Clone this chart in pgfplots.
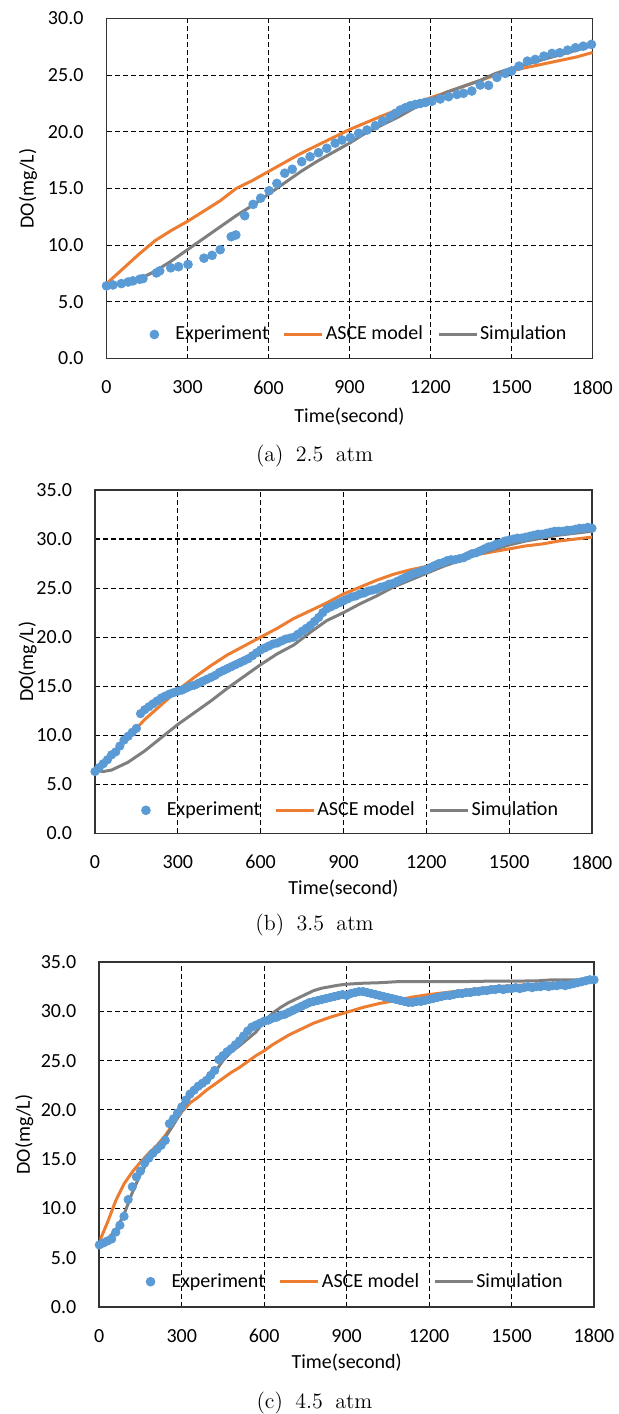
\documentclass[border=0pt]{standalone}
\usepackage{pgfplots}
\pgfplotsset{compat=1.18}
\usepackage{fontspec}
\newfontfamily\calfont{Carlito}
\definecolor{expblue}{HTML}{5B9BD5}
\definecolor{ascecol}{HTML}{ED7D31}
\definecolor{simcol}{HTML}{7F7F7F}
\newcommand{\sansten}{\calfont\fontsize{10}{12}\selectfont}
\newcommand{\capfont}{\fontsize{11}{13}\selectfont}
\pgfplotsset{
  panel/.style={
    scale only axis,
    xmin=0, xmax=1800, ymin=0,
    xtick={0,300,...,1800},
    grid=major,
    major grid style={black, line width=0.6pt, dash pattern=on 2.5pt off 1.5pt},
    axis line style={black!80, line width=0.8pt},
    major tick length=0pt,
    tick label style={font=\sansten, /pgf/number format/assume math mode=true, /pgf/number format/1000 sep={}},
    yticklabel style={/pgf/number format/fixed, /pgf/number format/fixed zerofill, /pgf/number format/precision=1, xshift=-8pt},
    xticklabel style={yshift=-7.5pt},
    label style={font=\sansten},
    xlabel={Time(second)},
    ylabel={DO(mg/L)},
    legend style={draw=none, fill=none, legend columns=3, anchor=center, font=\sansten,
      /tikz/every even column/.append style={column sep=6pt}, inner sep=0pt,
      nodes={inner xsep=1pt, inner ysep=1pt}},
    legend cell align=left,
  },
  explegend/.style={only marks, mark=*, mark size=2.2pt, expblue,
      legend image code/.code={\path[draw=none, fill=none] (0pt,0pt) -- (19pt,0pt);
        \path[mark repeat=2, mark phase=2, ##1, draw=none, mark options={draw=expblue, fill=expblue}] plot coordinates {(0pt,0pt)(9.5pt,0pt)(19pt,0pt)};}},
  linelegend/.style={line width=1.5pt,
      legend image code/.code={\draw[##1] (0pt,0pt) -- (19pt,0pt);}},
}
\begin{document}
\begin{tikzpicture}
\useasboundingbox (0pt,0pt) rectangle (309.5pt,-707pt);

% ---------------- (a) 2.5 atm ----------------
\begin{axis}[panel, at={(53.25pt,-179.25pt)}, anchor=south west,
  width=243pt, height=170pt, ymax=30, ytick={0,5,...,30},
  xlabel style={at={(axis description cs:0.5,-0.1706)}, anchor=center},
  ylabel style={at={(axis description cs:-0.1615,0.5)}, anchor=center},
  legend style={at={(0.505,0.0706)}}]
\addlegendimage{explegend}\addlegendentry{Experiment}
\addlegendimage{linelegend, ascecol}\addlegendentry{ASCE model}
\addlegendimage{linelegend, simcol}\addlegendentry{Simulation}
\addplot[ascecol, line width=1.5pt, forget plot] coordinates {
(0,6.6)(60,7.9)(120,9.2)(180,10.4)(240,11.3)(300,12.1)(360,13.0)(420,13.9)(480,15.0)(540,15.7)(600,16.5)(660,17.3)(720,18.1)(780,18.8)(840,19.5)(900,20.2)(960,20.8)(1020,21.4)(1080,21.95)(1140,22.5)(1200,23.0)(1260,23.5)(1320,24.0)(1380,24.5)(1440,25.0)(1500,25.4)(1560,25.7)(1620,26.0)(1680,26.3)(1740,26.6)(1800,27.0)};
\addplot[simcol, line width=1.5pt, forget plot] coordinates {
(0,6.4)(60,6.6)(120,7.0)(180,7.7)(240,8.6)(300,9.6)(360,10.6)(420,11.6)(480,12.6)(540,13.5)(600,14.5)(660,15.5)(720,16.5)(780,17.4)(840,18.2)(900,19.0)(960,19.9)(1020,20.6)(1080,21.3)(1140,22.1)(1200,22.8)(1260,23.5)(1320,24.0)(1380,24.5)(1440,25.15)(1500,25.6)(1560,26.0)(1620,26.4)(1680,26.8)(1740,27.2)(1800,27.6)};
\addplot[only marks, mark=*, mark size=2.2pt, expblue, forget plot] coordinates {
(0,6.41)(24,6.49)(55,6.61)(80,6.75)(98,6.85)(123,6.99)(135,7.05)(185,7.55)(197,7.73)(238,8.00)(267,8.10)(302,8.30)(361,8.85)(391,9.10)(421,9.60)(462,10.75)(479,10.90)(512,12.60)(543,13.60)(571,14.15)(602,14.80)(631,15.45)(660,16.35)(688,16.70)(723,17.37)(754,17.80)(785,18.16)(816,18.55)(847,19.00)(872,19.28)(903,19.49)(934,19.87)(965,20.16)(996,20.54)(1023,20.96)(1051,21.34)(1070,21.63)(1088,21.93)(1107,22.13)(1125,22.30)(1144,22.42)(1162,22.50)(1181,22.60)(1205,22.70)(1236,22.90)(1267,23.10)(1298,23.30)(1322,23.40)(1353,23.60)(1384,24.13)(1415,24.10)(1446,24.80)(1477,25.16)(1500,25.36)(1528,25.80)(1559,26.24)(1588,26.39)(1620,26.68)(1650,26.92)(1679,26.98)(1708,27.21)(1737,27.42)(1766,27.56)(1796,27.71)};
\end{axis}
\node[font=\capfont] at (157.25pt,-227.9pt) {(a)\hspace{6.2pt}2.5\hspace{6.2pt}atm};

% ---------------- (b) 3.5 atm ----------------
\begin{axis}[panel, at={(47.5pt,-416.65pt)}, anchor=south west,
  width=248.5pt, height=171.65pt, ymax=35, ytick={0,5,...,35},
  xlabel style={at={(axis description cs:0.5,-0.160)}, anchor=center},
  ylabel style={at={(axis description cs:-0.136,0.5)}, anchor=center},
  legend style={at={(0.5,0.067)}}]
\addlegendimage{explegend}\addlegendentry{Experiment}
\addlegendimage{linelegend, ascecol}\addlegendentry{ASCE model}
\addlegendimage{linelegend, simcol}\addlegendentry{Simulation}
\addplot[ascecol, line width=1.5pt, forget plot] coordinates {
(0,6.4)(60,7.9)(120,9.8)(180,11.6)(240,13.1)(300,14.6)(360,15.9)(420,17.1)(480,18.2)(540,19.1)(600,20.0)(660,20.9)(720,21.9)(780,22.7)(840,23.5)(900,24.4)(960,25.1)(1020,25.8)(1080,26.4)(1140,26.85)(1200,27.2)(1260,27.6)(1320,28.0)(1380,28.4)(1440,28.7)(1500,29.0)(1560,29.3)(1620,29.5)(1680,29.8)(1740,30.0)(1800,30.2)};
\addplot[simcol, line width=1.5pt, forget plot] coordinates {
(0,6.4)(30,6.3)(60,6.45)(120,7.25)(180,8.4)(240,9.75)(300,11.1)(360,12.3)(420,13.5)(480,14.8)(540,16.0)(600,17.2)(660,18.3)(720,19.2)(780,20.5)(840,21.7)(900,22.5)(960,23.4)(1020,24.2)(1080,25.1)(1140,25.8)(1200,26.5)(1260,27.2)(1320,27.8)(1380,28.4)(1440,28.9)(1500,29.4)(1560,29.8)(1620,30.1)(1680,30.4)(1740,30.6)(1800,30.8)};
\addplot[only marks, mark=*, mark size=2.1pt, expblue, forget plot] coordinates {
(0,6.3)(15,6.7)(30,7.1)(45,7.5)(60,8.0)(75,8.3)(90,8.9)(105,9.5)(120,9.9)(135,10.3)(150,10.7)(165,12.2)(180,12.6)(195,12.9)(210,13.2)(225,13.5)(240,13.8)(255,14.0)(270,14.2)(285,14.35)(300,14.5)(315,14.6)(330,14.8)(345,15.0)(360,15.1)(375,15.3)(390,15.5)(405,15.7)(420,15.9)(435,16.1)(450,16.4)(465,16.6)(480,16.8)(495,17.0)(510,17.2)(525,17.4)(540,17.6)(555,17.8)(570,18.1)(585,18.4)(600,18.7)(615,18.9)(630,19.1)(645,19.3)(660,19.4)(675,19.6)(690,19.8)(705,19.9)(720,20.0)(735,20.3)(750,20.6)(765,20.9)(780,21.2)(795,21.6)(810,22.0)(825,22.5)(840,22.9)(855,23.1)(870,23.3)(885,23.5)(900,23.7)(915,23.9)(930,24.1)(945,24.2)(960,24.4)(975,24.5)(990,24.7)(1005,24.8)(1020,24.9)(1035,25.1)(1050,25.2)(1065,25.4)(1080,25.5)(1095,25.7)(1110,25.9)(1125,26.1)(1140,26.3)(1155,26.5)(1170,26.6)(1185,26.8)(1200,26.9)(1215,27.1)(1230,27.3)(1245,27.5)(1260,27.6)(1275,27.8)(1290,27.9)(1305,27.9)(1320,28.0)(1335,28.1)(1350,28.3)(1365,28.5)(1380,28.6)(1395,28.8)(1410,29.0)(1425,29.2)(1440,29.3)(1455,29.5)(1470,29.6)(1485,29.8)(1500,29.9)(1515,30.0)(1530,30.1)(1545,30.1)(1560,30.2)(1575,30.3)(1590,30.4)(1605,30.5)(1620,30.5)(1635,30.6)(1650,30.7)(1665,30.8)(1680,30.8)(1695,30.8)(1710,30.9)(1725,30.9)(1740,31.0)(1755,31.1)(1770,31.1)(1785,31.2)(1800,31.1)};
\end{axis}
\node[font=\capfont] at (157.25pt,-462.6pt) {(b)\hspace{6.2pt}3.5\hspace{6.2pt}atm};

% ---------------- (c) 4.5 atm ----------------
\begin{axis}[panel, at={(49.65pt,-653.5pt)}, anchor=south west,
  width=247.35pt, height=172.5pt, ymax=35, ytick={0,5,...,35},
  xlabel style={at={(axis description cs:0.5,-0.1614)}, anchor=center},
  ylabel style={at={(axis description cs:-0.1516,0.5)}, anchor=center},
  legend style={at={(0.503,0.0733)}}]
\addlegendimage{explegend}\addlegendentry{Experiment}
\addlegendimage{linelegend, ascecol}\addlegendentry{ASCE model}
\addlegendimage{linelegend, simcol}\addlegendentry{Simulation}
\addplot[ascecol, line width=1.5pt, forget plot] coordinates {
(0,6.6)(30,8.6)(60,10.8)(90,12.5)(120,13.7)(150,14.7)(180,15.6)(210,16.4)(240,17.4)(270,18.6)(300,19.8)(330,20.7)(360,21.3)(390,22.0)(420,22.6)(450,23.2)(480,23.8)(510,24.3)(540,24.9)(570,25.5)(600,26.0)(630,26.6)(660,27.1)(690,27.6)(720,28.0)(780,28.8)(840,29.4)(900,29.9)(960,30.4)(1020,30.8)(1080,31.1)(1140,31.45)(1200,31.7)(1260,31.9)(1320,32.1)(1380,32.3)(1440,32.5)(1500,32.6)(1560,32.7)(1620,32.8)(1680,32.9)(1740,33.0)(1800,33.1)};
\addplot[simcol, line width=1.5pt, forget plot] coordinates {
(0,6.4)(30,6.9)(60,7.8)(90,9.4)(120,11.6)(150,13.5)(180,14.9)(210,16.0)(240,17.2)(270,18.5)(300,19.9)(330,21.3)(360,22.3)(390,23.0)(420,23.8)(450,25.0)(480,25.9)(510,26.5)(540,27.2)(570,27.9)(600,29.0)(630,29.8)(660,30.4)(690,30.9)(720,31.3)(750,31.7)(780,32.1)(810,32.35)(840,32.5)(870,32.65)(900,32.75)(960,32.85)(1020,32.9)(1080,33.0)(1200,33.0)(1300,33.0)(1400,33.05)(1500,33.05)(1600,33.1)(1650,33.2)(1800,33.2)};
\addplot[only marks, mark=*, mark size=2.1pt, expblue, forget plot] coordinates {
(0,6.3)(15,6.5)(30,6.7)(45,6.9)(60,7.6)(75,8.3)(90,9.2)(105,10.9)(120,12.2)(135,13.2)(150,13.8)(165,14.6)(180,15.1)(195,15.6)(210,16.0)(225,16.4)(240,16.9)(255,18.6)(270,19.1)(285,19.7)(300,20.3)(315,21.0)(330,21.6)(345,22.0)(360,22.4)(375,22.7)(390,23.0)(405,23.5)(420,24.0)(435,25.1)(450,25.5)(465,25.9)(480,26.2)(495,26.6)(510,27.0)(525,27.5)(540,28.0)(555,28.4)(570,28.6)(585,28.8)(600,29.0)(615,29.1)(630,29.3)(645,29.4)(660,29.6)(675,29.7)(690,29.9)(705,30.1)(720,30.3)(735,30.5)(750,30.7)(765,30.9)(780,31.0)(795,31.1)(810,31.2)(825,31.3)(840,31.4)(855,31.5)(870,31.6)(885,31.7)(900,31.6)(915,31.8)(930,31.9)(945,32.0)(960,32.0)(975,31.9)(990,31.8)(1005,31.7)(1020,31.6)(1035,31.5)(1050,31.4)(1065,31.3)(1080,31.2)(1095,31.1)(1110,31.0)(1125,30.9)(1140,30.9)(1155,31.0)(1170,31.0)(1185,31.1)(1200,31.2)(1215,31.3)(1230,31.4)(1245,31.5)(1260,31.6)(1275,31.6)(1290,31.7)(1305,31.8)(1320,31.8)(1335,31.9)(1350,31.9)(1365,32.0)(1380,32.0)(1395,32.1)(1410,32.1)(1425,32.2)(1440,32.2)(1455,32.3)(1470,32.2)(1485,32.3)(1500,32.3)(1515,32.4)(1530,32.3)(1545,32.4)(1560,32.5)(1575,32.4)(1590,32.5)(1605,32.5)(1620,32.6)(1635,32.5)(1650,32.6)(1665,32.6)(1680,32.7)(1695,32.6)(1710,32.7)(1725,32.8)(1740,32.9)(1755,33.0)(1770,33.1)(1785,33.2)(1800,33.2)};
\end{axis}
\node[font=\capfont] at (157.25pt,-701.5pt) {(c)\hspace{6.2pt}4.5\hspace{6.2pt}atm};
\end{tikzpicture}
\end{document}
